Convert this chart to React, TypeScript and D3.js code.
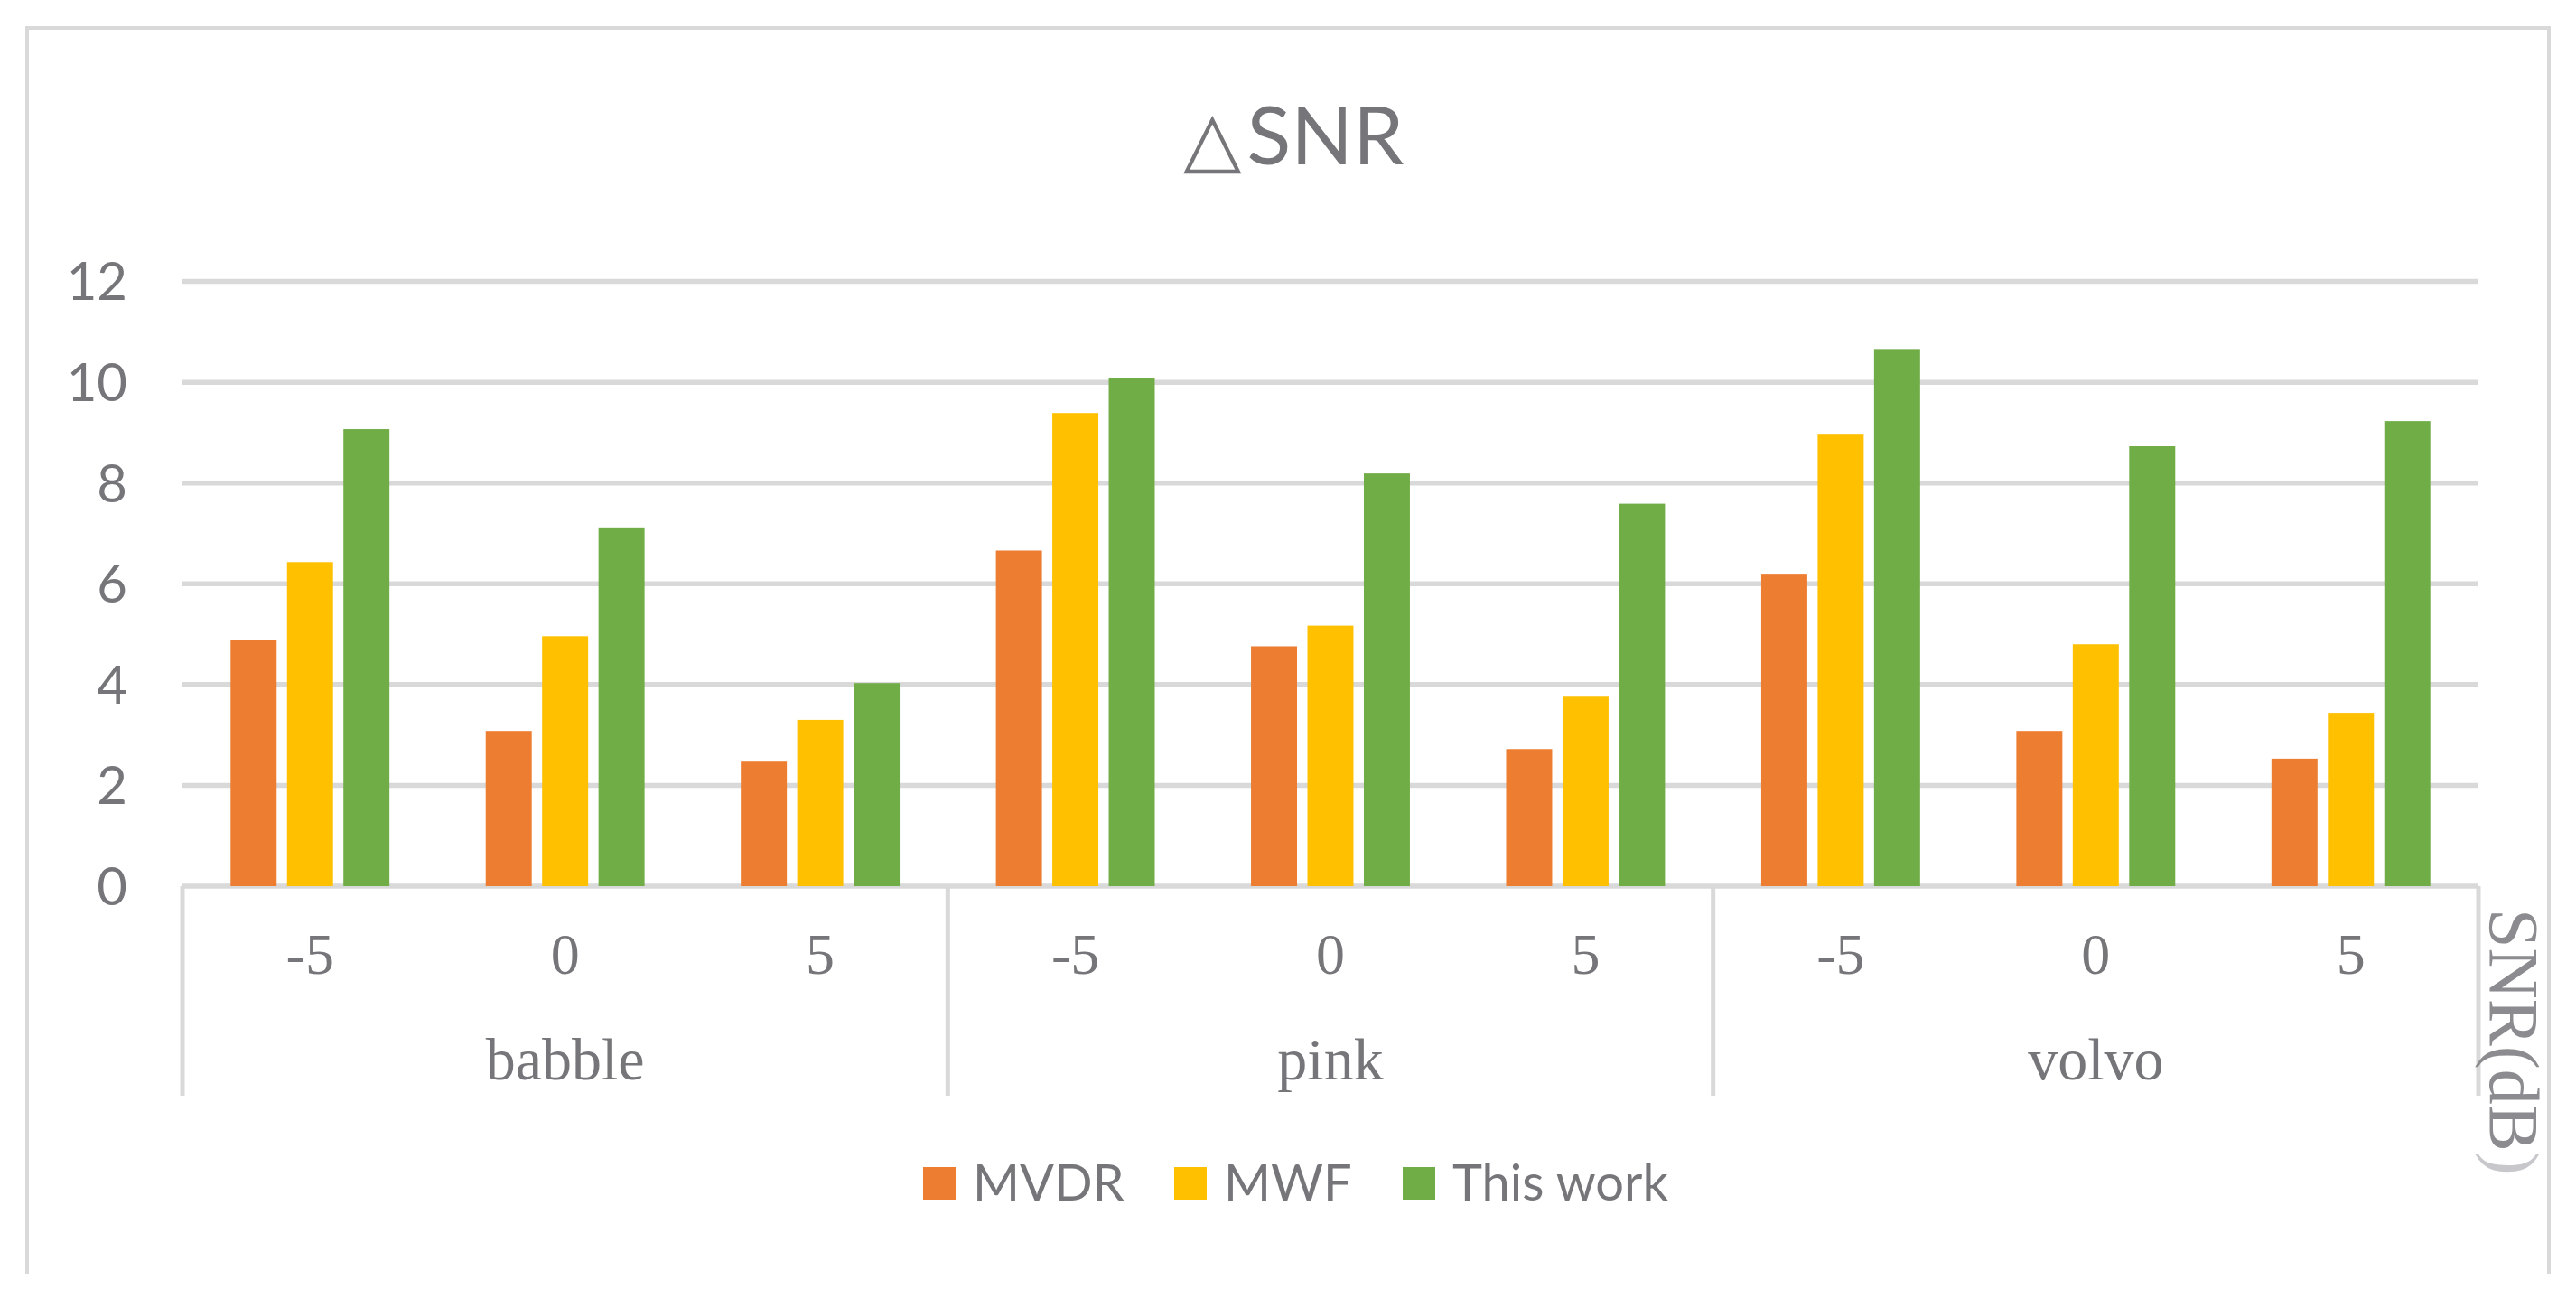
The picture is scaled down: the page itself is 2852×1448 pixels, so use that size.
import * as d3 from 'd3';

const noiseTypes = ['babble', 'pink', 'volvo'];
const snrLevels = ['-5', '0', '5'];
const seriesNames = ['MVDR', 'MWF', 'This work'];
const seriesColors = ['#ED7D31', '#FFC000', '#70AD47'];

// values in order babble(-5,0,5), pink(-5,0,5), volvo(-5,0,5)
const mvdrValues = [4.89, 3.08, 2.47, 6.66, 4.76, 2.72, 6.2, 3.08, 2.53];
const mwfValues = [6.43, 4.96, 3.3, 9.39, 5.17, 3.76, 8.96, 4.8, 3.44];
const thisWorkValues = [9.07, 7.12, 4.03, 10.09, 8.19, 7.59, 10.66, 8.73, 9.23];
const yTicks = [0, 2, 4, 6, 8, 10, 12];

const W = 2852;
const H = 1448;
const plot = { left: 202, right: 2744, top: 311.6, bottom: 981 };
const textGray = '#76767a';
const gridGray = '#d9d9d9';

export default function App() {
  const series = [mvdrValues, mwfValues, thisWorkValues];

  const y = d3.scaleLinear().domain([0, 12]).range([plot.bottom, plot.top]);
  const xGroup = d3.scaleBand().domain(noiseTypes).range([plot.left, plot.right]);
  const xCell = d3.scaleBand().domain(snrLevels).range([0, xGroup.bandwidth()]);
  const xBar = d3
    .scaleBand()
    .domain(seriesNames)
    .range([0, xCell.bandwidth()])
    .paddingInner(0.184)
    .paddingOuter(0.853);

  const dividers = [...noiseTypes.map((g) => xGroup(g)!), plot.right];
  const legendX = [1022, 1300, 1553];

  return (
    <svg
      width={W}
      height={H}
      viewBox={`0 0 ${W} ${H}`}
      style={{ position: 'absolute', left: 0, top: 0, background: '#fff' }}
    >
      {/* frame: left, top, right (bottom is cropped) */}
      <path
        d="M30,1410 L30,31 L2822,31 L2822,1410"
        fill="none"
        stroke={gridGray}
        strokeWidth={4}
      />

      <text
        x={1432}
        y={182}
        textAnchor="middle"
        fontFamily="Lato, 'DejaVu Sans', sans-serif"
        fontSize={90}
        fill={textGray}
      >
        <tspan fontFamily="'DejaVu Sans'" fontWeight={200} fontSize={84}>△</tspan>
        <tspan dx={6}>SNR</tspan>
      </text>

      {/* gridlines */}
      {yTicks.map((t) => (
        <line
          key={t}
          x1={plot.left}
          x2={plot.right}
          y1={y(t)}
          y2={y(t)}
          stroke={gridGray}
          strokeWidth={5.5}
        />
      ))}

      {yTicks.map((t) => (
        <text
          key={'yl' + t}
          x={141}
          y={y(t)}
          dy="0.36em"
          textAnchor="end"
          fontFamily="Lato, sans-serif"
          fontSize={58}
          fill={textGray}
        >
          {t}
        </text>
      ))}

      {/* bars */}
      {noiseTypes.map((g, gi) =>
        snrLevels.map((s, si) =>
          seriesNames.map((name, k) => {
            const v = series[k][gi * 3 + si];
            const x = xGroup(g)! + xCell(s)! + xBar(name)!;
            return (
              <rect
                key={`${g}-${s}-${name}`}
                x={x}
                y={y(v)}
                width={xBar.bandwidth()}
                height={y(0) - y(v)}
                fill={seriesColors[k]}
              />
            );
          }),
        ),
      )}

      {/* category dividers */}
      {dividers.map((x, i) => (
        <line
          key={'d' + i}
          x1={x}
          x2={x}
          y1={plot.bottom}
          y2={1213}
          stroke={gridGray}
          strokeWidth={5}
        />
      ))}

      {/* SNR tick labels */}
      {noiseTypes.map((g) =>
        snrLevels.map((s) => (
          <text
            key={'x' + g + s}
            x={xGroup(g)! + xCell(s)! + xCell.bandwidth() / 2}
            y={1078}
            textAnchor="middle"
            fontFamily="'Liberation Serif', 'Times New Roman', serif"
            fontSize={64}
            fill={textGray}
          >
            {s}
          </text>
        )),
      )}

      {noiseTypes.map((g) => (
        <text
          key={'g' + g}
          x={xGroup(g)! + xGroup.bandwidth() / 2}
          y={1195}
          textAnchor="middle"
          fontFamily="'Liberation Serif', 'Times New Roman', serif"
          fontSize={66}
          fill={textGray}
        >
          {g}
        </text>
      ))}

      {/* legend */}
      {seriesNames.map((name, k) => (
        <g key={'lg' + name} transform={`translate(${legendX[k]},1292)`}>
          <rect width={36} height={36} fill={seriesColors[k]} />
          <text
            x={55}
            y={37}
            fontFamily="Lato, sans-serif"
            fontSize={56}
            fill={textGray}
          >
            {name}
          </text>
        </g>
      ))}

      {/* rotated unit label */}
      <text
        transform="translate(2757,1006) rotate(90)"
        fontFamily="'Liberation Serif', 'Times New Roman', serif"
        fontSize={78}
        fill="#8c8c90"
      >
        SNR(dB<tspan fill="#c8c8cc">)</tspan>
      </text>
    </svg>
  );
}
